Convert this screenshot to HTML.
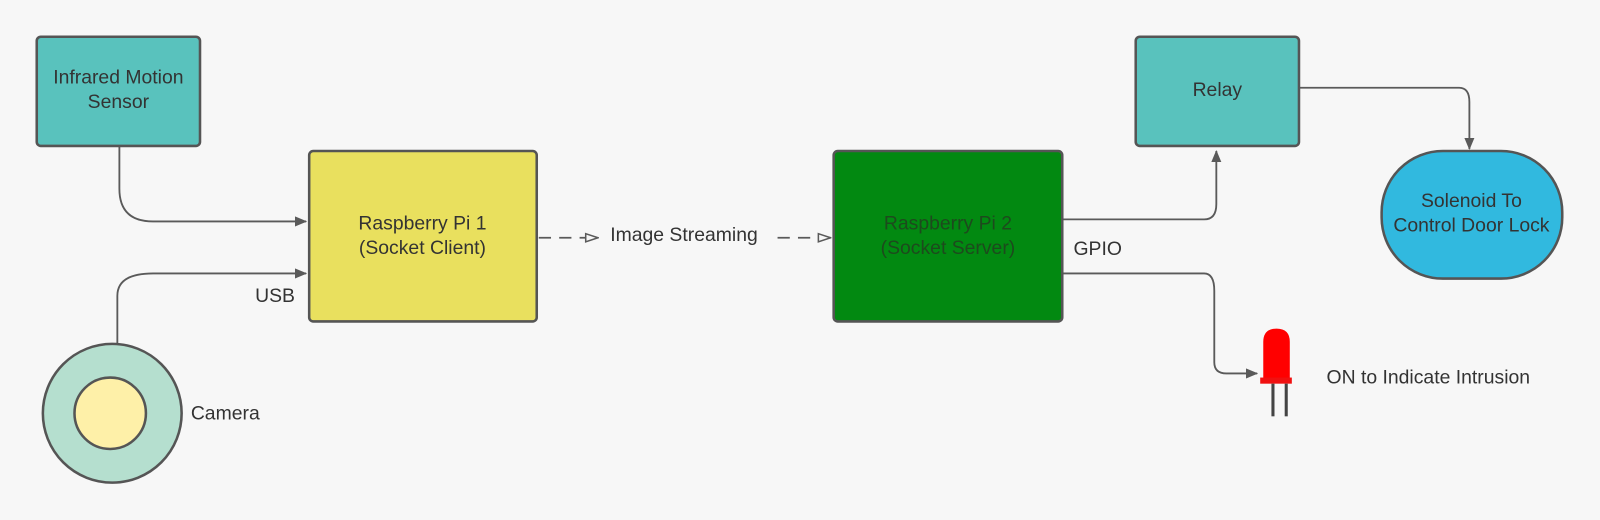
<!DOCTYPE html>
<html><head><meta charset="utf-8"><style>
html,body{margin:0;padding:0;background:#f7f7f7;}
svg{display:block;}
text{font-family:"Liberation Sans",sans-serif;font-size:19px;fill:#333;}
</style></head><body>
<svg width="1600" height="520" viewBox="0 0 1568 509.6" preserveAspectRatio="none" xmlns="http://www.w3.org/2000/svg">
<defs>
<marker id="a" markerWidth="12" markerHeight="10" refX="11" refY="5" orient="auto" markerUnits="userSpaceOnUse">
<path d="M0,0 L12,5 L0,10 Z" fill="#5a5a5a"/></marker>
<marker id="o" markerWidth="14" markerHeight="10" refX="13" refY="5" orient="auto" markerUnits="userSpaceOnUse">
<path d="M1,1 L13,5 L1,9 Z" fill="#f7f7f7" stroke="#5a5a5a" stroke-width="1.5"/></marker>
</defs>
<rect width="1568" height="510" fill="#f7f7f7"/>
<g fill="none" stroke="#5a5a5a" stroke-width="1.8">
<path d="M117,143 V185 Q117,217 150,217 H300" marker-end="url(#a)"/>
<path d="M115,337 V290 Q115,268 150,268 H300" marker-end="url(#a)"/>
<path d="M1042,215 H1180 Q1192,215 1192,200 V148" marker-end="url(#a)"/>
<path d="M1273,86 H1430 Q1440,86 1440,100 V146" marker-end="url(#a)"/>
<path d="M1042,268 H1180 Q1190,268 1190,285 V355 Q1190,366 1202,366 H1232" marker-end="url(#a)"/>
<path d="M528,233 H586" stroke-dasharray="12,8" marker-end="url(#o)"/>
<path d="M762,233 H814" stroke-dasharray="12,8" marker-end="url(#o)"/>
</g>
<rect x="36" y="36" width="160" height="107" rx="4" fill="#59c2bd" stroke="#555" stroke-width="2.5"/>
<text x="116" y="82" text-anchor="middle">Infrared Motion</text>
<text x="116" y="106" text-anchor="middle">Sensor</text>
<rect x="303" y="148" width="223" height="167" rx="4" fill="#e9e05e" stroke="#555" stroke-width="2.5"/>
<text x="414" y="225" text-anchor="middle">Raspberry Pi 1</text>
<text x="414" y="249" text-anchor="middle">(Socket Client)</text>
<rect x="817" y="148" width="224" height="167" rx="4" fill="#028911" stroke="#555" stroke-width="2.5"/>
<text x="929" y="225" text-anchor="middle" style="fill:#1d4a1d">Raspberry Pi 2</text>
<text x="929" y="249" text-anchor="middle" style="fill:#1d4a1d">(Socket Server)</text>
<rect x="1113" y="36" width="160" height="107" rx="4" fill="#59c2bd" stroke="#555" stroke-width="2.5"/>
<text x="1193" y="94" text-anchor="middle">Relay</text>
<rect x="1354" y="148" width="177" height="125" rx="60" ry="60" fill="#31b9df" stroke="#555" stroke-width="2.5"/>
<text x="1442" y="203" text-anchor="middle">Solenoid To</text>
<text x="1442" y="227" text-anchor="middle">Control Door Lock</text>
<circle cx="110" cy="405" r="68" fill="#b5dfcf" stroke="#555" stroke-width="2.5"/>
<circle cx="108" cy="405" r="35" fill="#fef0a8" stroke="#555" stroke-width="2.5"/>
<text x="187" y="411">Camera</text>
<text x="250" y="296">USB</text>
<text x="1052" y="250">GPIO</text>
<text x="598" y="236">Image Streaming</text>
<text x="1300" y="376">ON to Indicate Intrusion</text>
<g>
<path d="M1238,375 V335 Q1238,322 1251,322 Q1264,322 1264,335 V375 Z" fill="#ff0000"/>
<rect x="1235" y="370" width="31" height="6" fill="#f01010"/>
<rect x="1246" y="376" width="3" height="32" fill="#444"/>
<rect x="1259" y="376" width="3" height="32" fill="#444"/>
</g>
</svg>
</body></html>
